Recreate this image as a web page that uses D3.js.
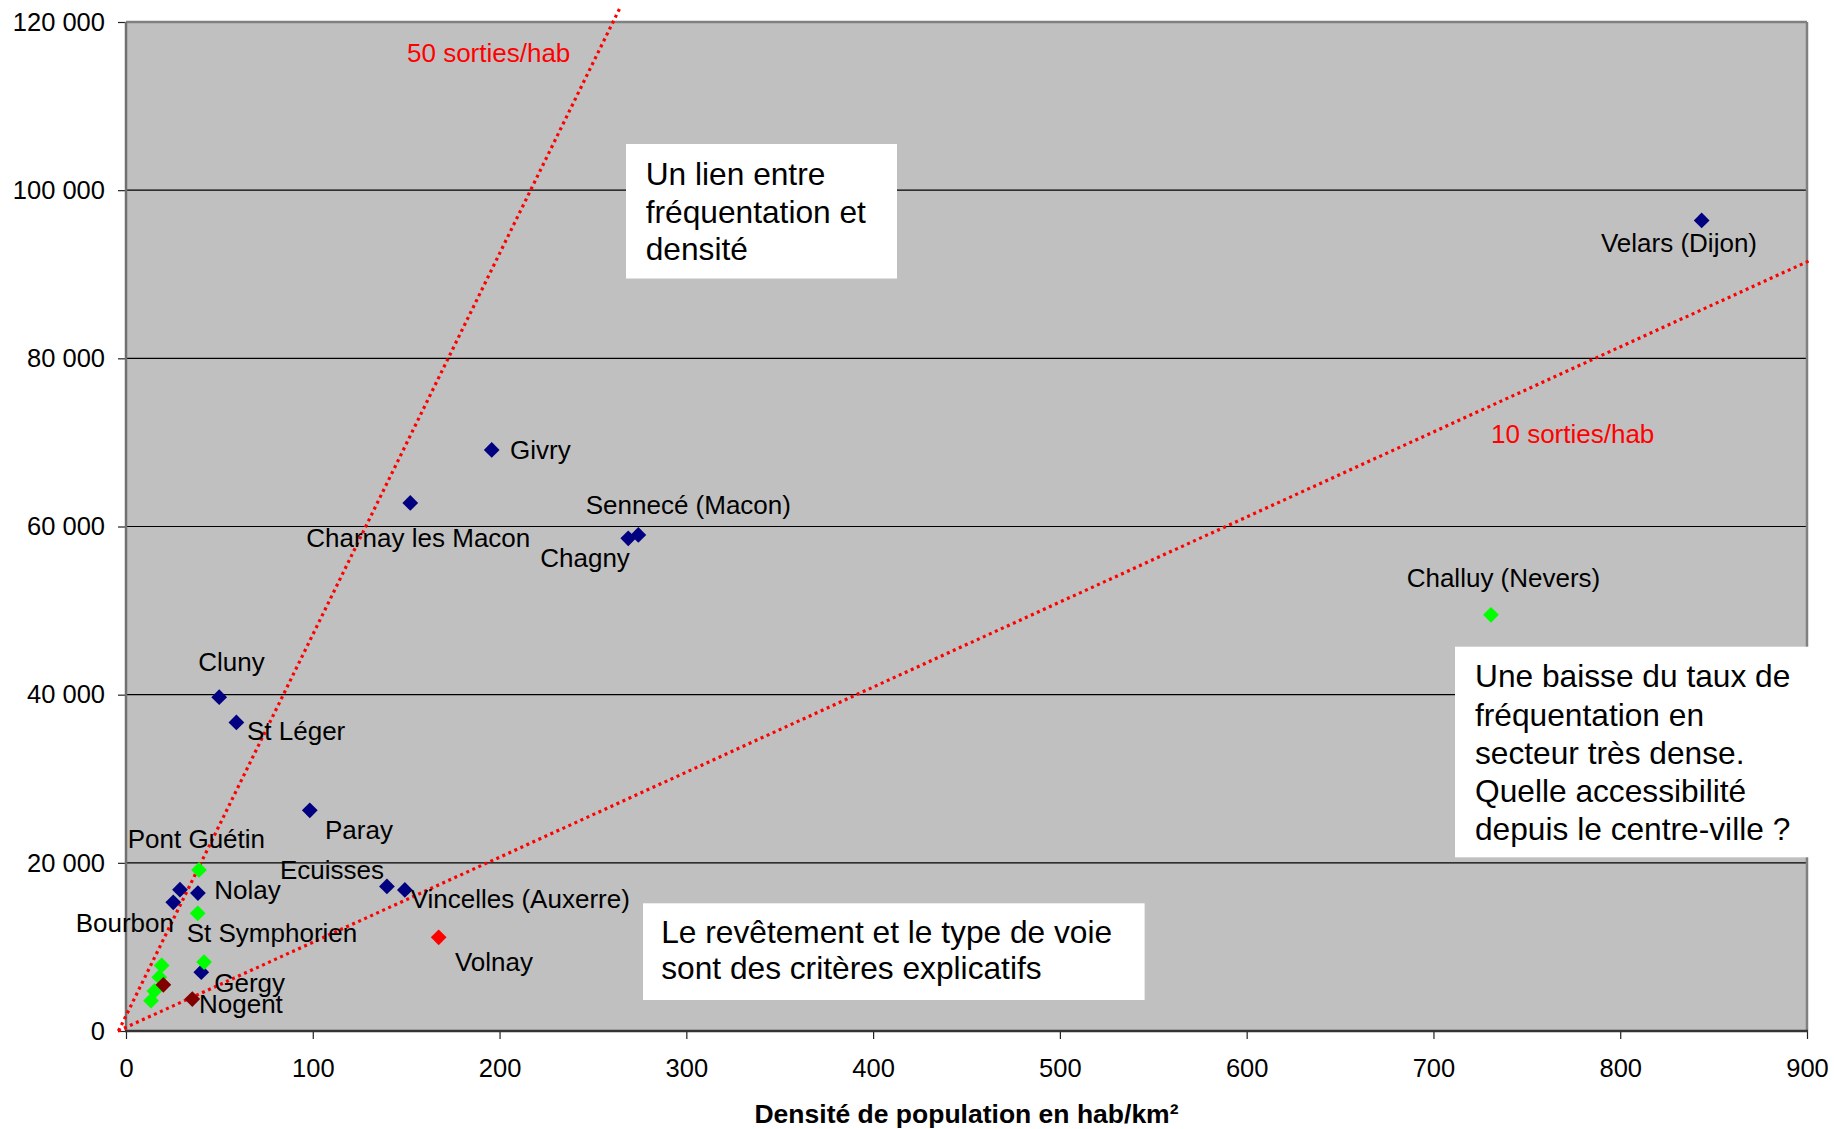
<!DOCTYPE html>
<html>
<head>
<meta charset="utf-8">
<script src="https://cdn.jsdelivr.net/npm/d3@7"></script>
<style>
  body { margin: 0; background: #fff; }
  svg { display: block; }
  text { font-family: "Liberation Sans", Arial, sans-serif; }
</style>
</head>
<body>
<svg id="chart" width="1834" height="1129"></svg>
<script>
// Axis ticks
const xTicks = [0, 100, 200, 300, 400, 500, 600, 700, 800, 900];
const yTicks = [0, 20000, 40000, 60000, 80000, 100000, 120000];
const xTitle = "Densité de population en hab/km²";

// Sites: density (hab/km²) and yearly visits, one array per marker colour
const navyPoints = [
  { name: "Velars (Dijon)", x: 843.6, y: 96400 },
  { name: "Givry", x: 195.8, y: 69100 },
  { name: "Charnay les Macon", x: 152.2, y: 62800 },
  { name: "Chagny", x: 268.9, y: 58600 },
  { name: "Sennecé (Macon)", x: 274.3, y: 59000 },
  { name: "Cluny", x: 49.9, y: 39700 },
  { name: "St Léger", x: 59.1, y: 36700 },
  { name: "Paray", x: 98.4, y: 26250 },
  { name: "Ecuisses", x: 139.7, y: 17200 },
  { name: "Vincelles (Auxerre)", x: 149.3, y: 16770 },
  { name: "Nolay", x: 38.5, y: 16400 },
  { name: "Bourbon", x: 25.3, y: 15300 },
  { name: "", x: 28.9, y: 16800 },
  { name: "Gergy", x: 40.3, y: 7000 }
];
const greenPoints = [
  { name: "Challuy (Nevers)", x: 730.8, y: 49500 },
  { name: "Pont Guétin", x: 39.1, y: 19150 },
  { name: "St Symphorien", x: 38.4, y: 14000 },
  { name: "", x: 41.8, y: 8200 },
  { name: "", x: 19.1, y: 7800 },
  { name: "", x: 17.8, y: 6400 },
  { name: "", x: 15.2, y: 4750 },
  { name: "", x: 13.4, y: 3600 }
];
const darkRedPoints = [
  { name: "", x: 20.0, y: 5500 },
  { name: "Nogent", x: 35.5, y: 3800 }
];
const redPoints = [
  { name: "Volnay", x: 167.4, y: 11140 }
];

// Visits-per-inhabitant guide lines (end points in data units)
const guideLines = [
  { label: "50 sorties/hab", from: [-4, 0], to: [264.5, 121700] },
  { label: "10 sorties/hab", from: [-4.3, 0], to: [902.2, 91700] }
];

// Comment boxes
const noteLink = ["Un lien entre", "fréquentation et", "densité"];
const noteDense = ["Une baisse du taux de", "fréquentation en", "secteur très dense.",
                   "Quelle accessibilité", "depuis le centre-ville ?"];
const noteSurface = ["Le revêtement et le type de voie", "sont des critères explicatifs"];

// ---- layout ----
const W = 1834, H = 1129;
const margin = { top: 22, right: 27, bottom: 98, left: 126 };
const plotW = W - margin.left - margin.right;
const plotH = H - margin.top - margin.bottom;

const svg = d3.select("#chart");
svg.append("rect").attr("width", W).attr("height", H).attr("fill", "#fff");

const x = d3.scaleLinear().domain([0, 900]).range([margin.left, margin.left + plotW]);
const y = d3.scaleLinear().domain([0, 120000]).range([margin.top + plotH, margin.top]);

const fr = d3.formatLocale({ decimal: ",", thousands: " ", grouping: [3], currency: ["", " €"] });
const fmtY = fr.format(",d");

// plot area
svg.append("rect")
  .attr("x", x(0)).attr("y", y(120000))
  .attr("width", x(900) - x(0)).attr("height", y(0) - y(120000))
  .attr("fill", "#c0c0c0");

// horizontal gridlines
svg.append("g").selectAll("line")
  .data(yTicks.filter(v => v > 0 && v < 120000))
  .join("line")
  .attr("x1", x(0)).attr("x2", x(900))
  .attr("y1", d => y(d)).attr("y2", d => y(d))
  .attr("stroke", "#000").attr("stroke-width", 1.2);

// axes
const yAxis = svg.append("g")
  .attr("transform", `translate(${x(0)},0)`)
  .call(d3.axisLeft(y).tickValues(yTicks).tickFormat(fmtY).tickSize(8).tickPadding(13));
yAxis.select(".domain").remove();
yAxis.selectAll(".tick line").attr("stroke", "#222").attr("stroke-width", 1.2);
yAxis.selectAll(".tick text").attr("font-size", 25.5).attr("fill", "#000")
  .style("font-family", '"Liberation Sans", Arial, sans-serif');

const xAxis = svg.append("g")
  .attr("transform", `translate(0,${y(0)})`)
  .call(d3.axisBottom(x).tickValues(xTicks).tickFormat(d3.format("d")).tickSize(8).tickPadding(20));
xAxis.select(".domain").remove();
xAxis.selectAll(".tick line").attr("stroke", "#222").attr("stroke-width", 1.2);
xAxis.selectAll(".tick text").attr("font-size", 25.5).attr("fill", "#000")
  .style("font-family", '"Liberation Sans", Arial, sans-serif');

// plot frame
const frame = svg.append("g");
frame.append("line").attr("x1", x(0)).attr("x2", x(900)).attr("y1", y(120000)).attr("y2", y(120000))
  .attr("stroke", "#808080").attr("stroke-width", 2.5);
frame.append("line").attr("x1", x(900)).attr("x2", x(900)).attr("y1", y(120000)).attr("y2", y(0))
  .attr("stroke", "#808080").attr("stroke-width", 2.5);
frame.append("line").attr("x1", x(0)).attr("x2", x(0)).attr("y1", y(120000)).attr("y2", y(0))
  .attr("stroke", "#707070").attr("stroke-width", 2.5);
frame.append("line").attr("x1", x(0) - 1).attr("x2", x(900) + 1).attr("y1", y(0)).attr("y2", y(0))
  .attr("stroke", "#333").attr("stroke-width", 2.5);

// x axis title
svg.append("text")
  .attr("x", (x(0) + x(900)) / 2).attr("y", 1123)
  .attr("text-anchor", "middle").attr("font-size", 26.5).attr("font-weight", "bold")
  .text(xTitle);

// guide lines
svg.append("g").selectAll("line")
  .data(guideLines)
  .join("line")
  .attr("x1", d => x(d.from[0])).attr("y1", d => y(d.from[1]))
  .attr("x2", d => x(d.to[0])).attr("y2", d => y(d.to[1]))
  .attr("stroke", "#ff0000").attr("stroke-width", 3.2)
  .attr("stroke-dasharray", "3 3.6");

const guideLabelPos = { "50 sorties/hab": [407, 62], "10 sorties/hab": [1491, 443] };
svg.append("g").selectAll("text")
  .data(guideLines)
  .join("text")
  .attr("x", d => guideLabelPos[d.label][0]).attr("y", d => guideLabelPos[d.label][1])
  .attr("font-size", 26).attr("fill", "#ff0000")
  .text(d => d.label);

// markers
const groups = [
  { pts: navyPoints, color: "#000080" },
  { pts: greenPoints, color: "#00ff00" },
  { pts: darkRedPoints, color: "#800000" },
  { pts: redPoints, color: "#ff0000" }
];
const diamond = d3.symbol().type(d3.symbolSquare).size(124)();
groups.forEach(g => {
  svg.append("g").selectAll("path")
    .data(g.pts)
    .join("path")
    .attr("d", diamond)
    .attr("transform", d => `translate(${x(d.x)},${y(d.y)}) rotate(45)`)
    .attr("fill", g.color);
});

// data labels, offset from their marker in pixels
const labelOffsets = {
  "Velars (Dijon)": [-100.7, 31.2],
  "Givry": [18.3, 9],
  "Charnay les Macon": [-104, 43.7],
  "Chagny": [-88, 28.4],
  "Sennecé (Macon)": [-52.6, -20.6],
  "Cluny": [-20.9, -26.5],
  "St Léger": [10.6, 17.6],
  "Paray": [15.2, 28.7],
  "Ecuisses": [-106.9, -7.1],
  "Vincelles (Auxerre)": [5.8, 18.3],
  "Nolay": [16.4, 5.9],
  "Bourbon": [-97.6, 29.3],
  "Gergy": [13, 19.6],
  "Challuy (Nevers)": [-84.3, -28.1],
  "Pont Guétin": [-71.3, -21.7],
  "St Symphorien": [-11, 28.4],
  "Nogent": [6.7, 14.3],
  "Volnay": [16.3, 33.7]
};
const labelled = [].concat(navyPoints, greenPoints, darkRedPoints, redPoints).filter(d => d.name);
svg.append("g").selectAll("text")
  .data(labelled)
  .join("text")
  .attr("x", d => x(d.x) + labelOffsets[d.name][0])
  .attr("y", d => y(d.y) + labelOffsets[d.name][1])
  .attr("font-size", 26).attr("fill", "#000")
  .text(d => d.name);

// comment boxes
function note(lines, box, tx, baselines) {
  const g = svg.append("g");
  g.append("rect").attr("x", box[0]).attr("y", box[1])
    .attr("width", box[2] - box[0]).attr("height", box[3] - box[1]).attr("fill", "#fff");
  g.selectAll("text").data(lines).join("text")
    .attr("x", tx).attr("y", (d, i) => baselines[0] + i * baselines[1])
    .attr("font-size", 31.7).attr("fill", "#000")
    .text(d => d);
}
note(noteLink, [626, 144, 897, 278.5], 645.7, [185, 37.5]);
note(noteDense, [1455, 646.7, 1809, 857.3], 1475, [687.3, 38.2]);
note(noteSurface, [643, 903.3, 1144.6, 1000], 661.2, [942.7, 36.6]);
</script>
</body>
</html>
